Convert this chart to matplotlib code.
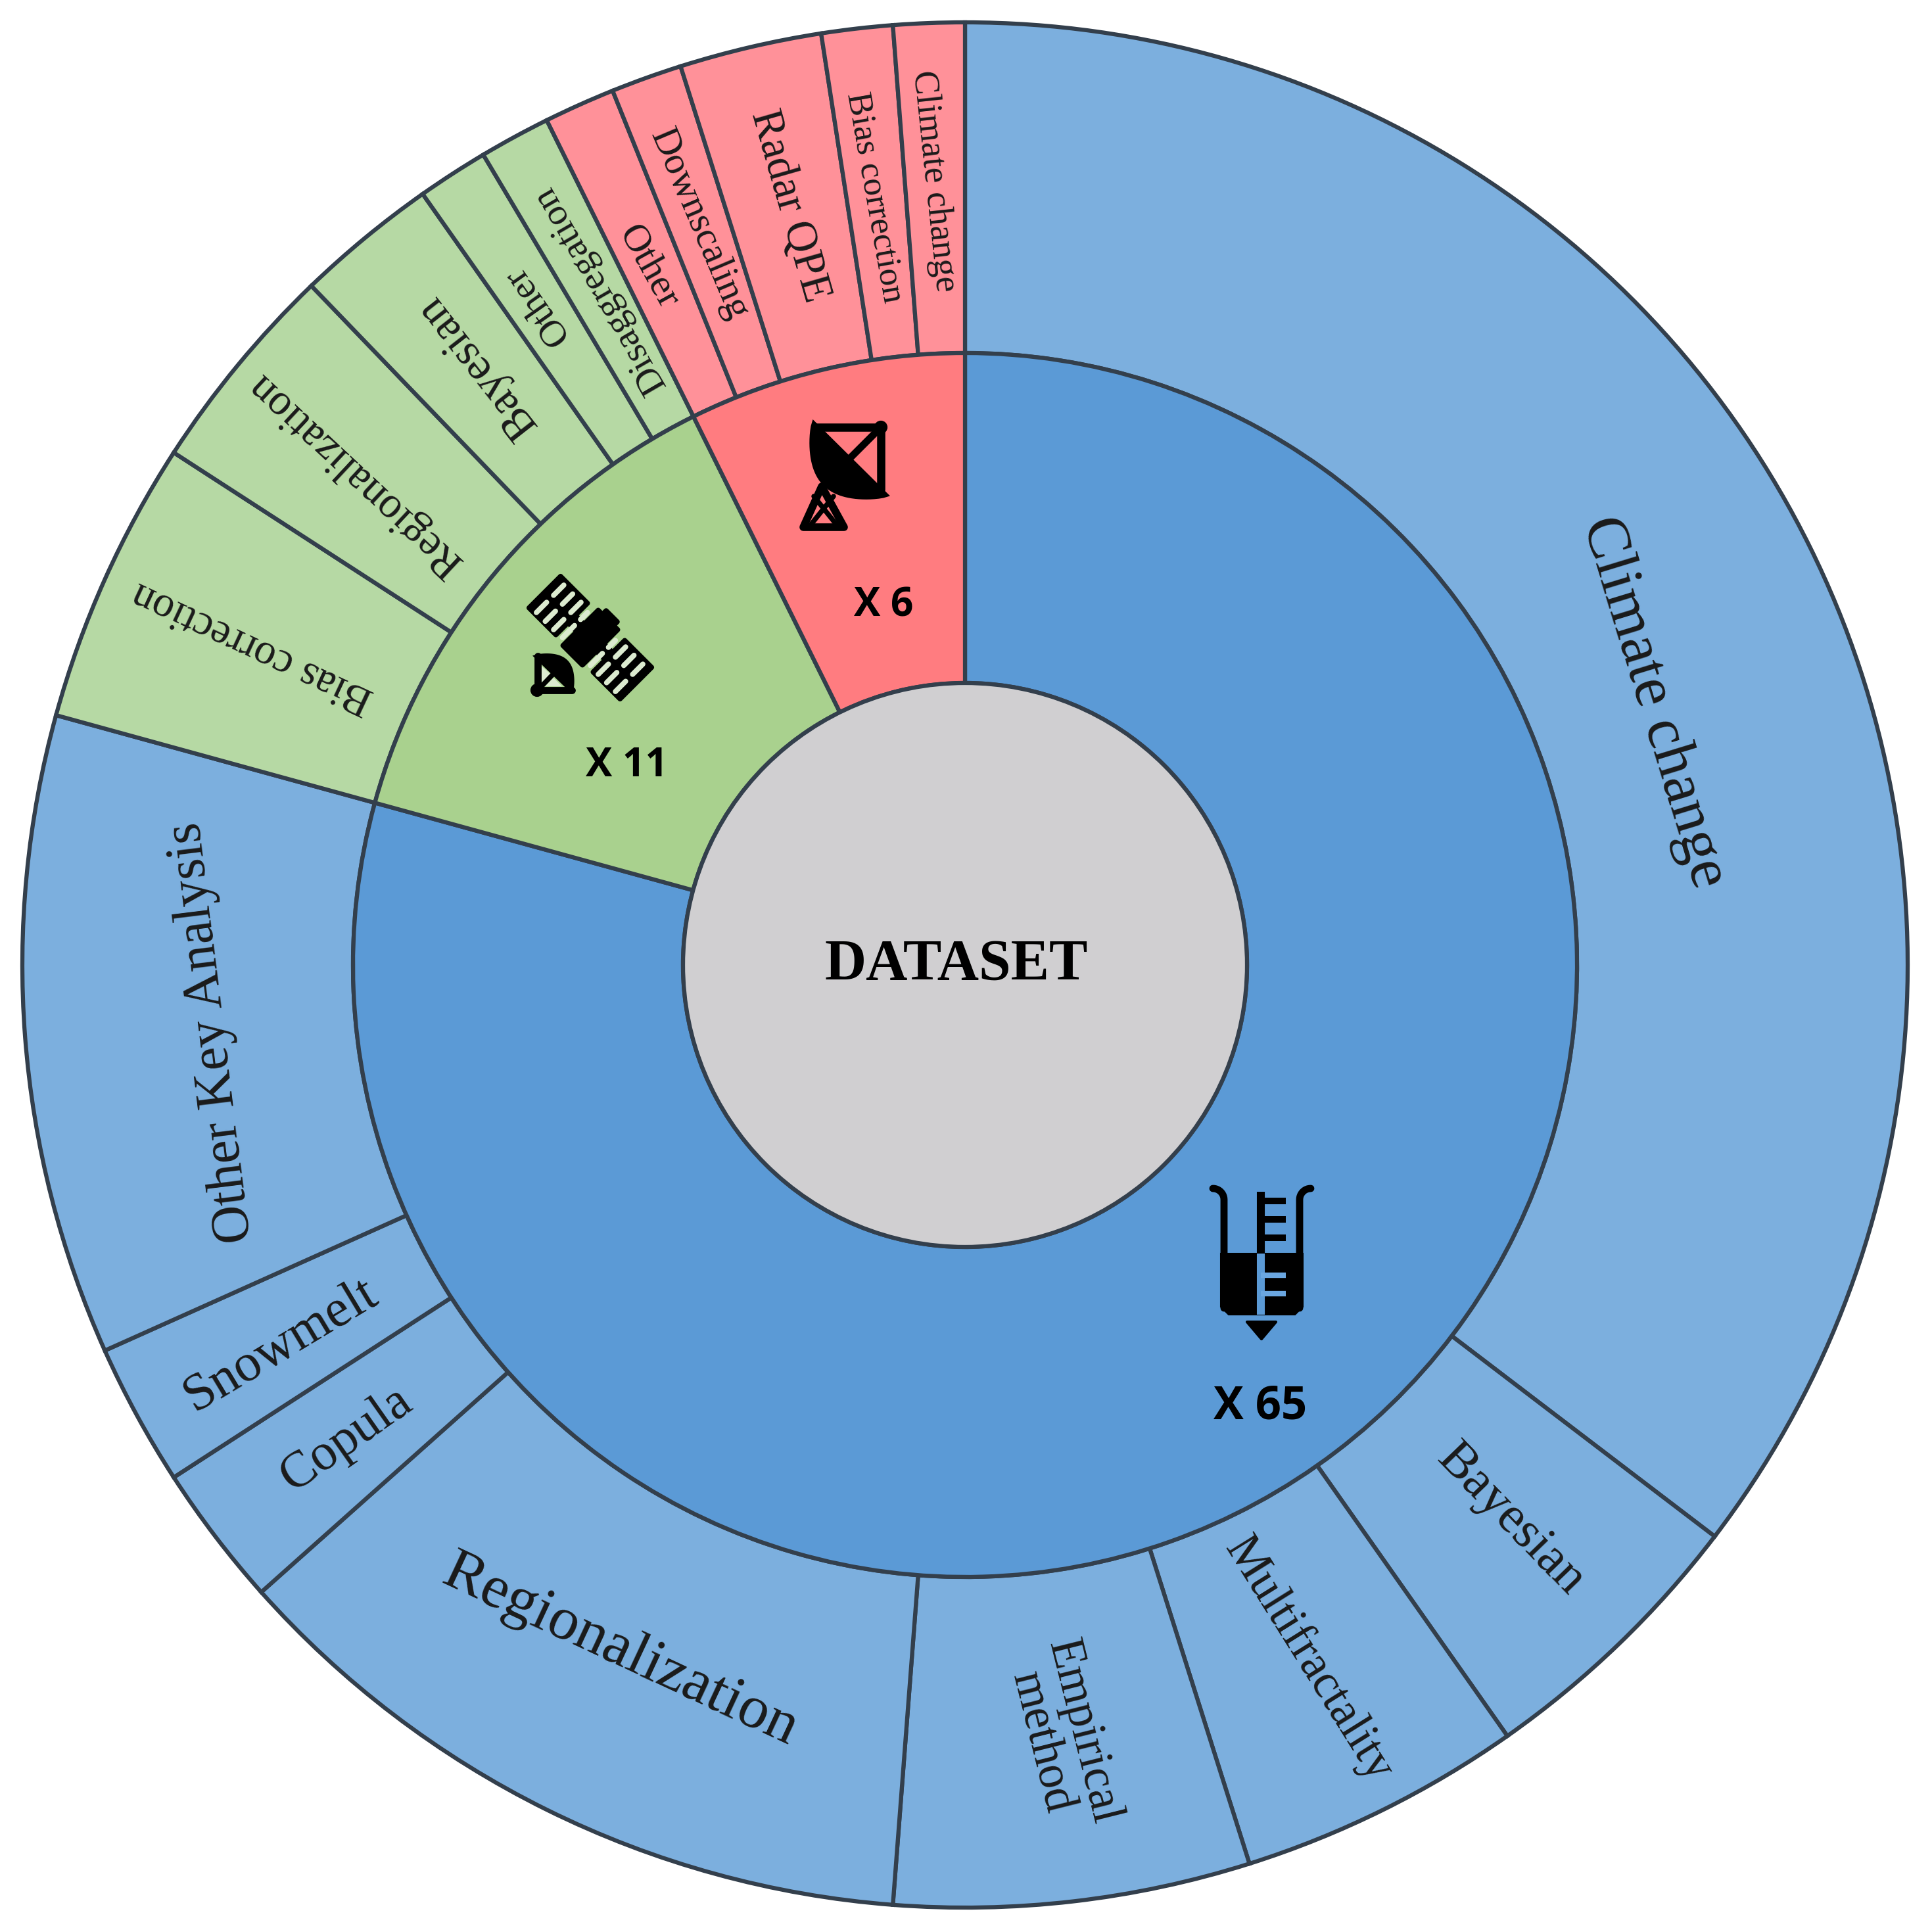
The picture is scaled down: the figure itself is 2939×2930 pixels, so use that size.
import numpy as np
import matplotlib
matplotlib.use('Agg')
import matplotlib.pyplot as plt
from matplotlib.patches import Polygon, Wedge, Circle

inner_vals = [65, 11, 6]
inner_cols = ['#5b9ad6', '#a9d18e', '#ff7c80']

outer_names = ['Climate change', 'Bayesian', 'Multifractality', 'Empirical\nmethod', 'Regionalization',
               'Copula', 'Snowmelt', 'Other Key Analysis',
               'Bias correction', 'Regionalization', 'Bayesian', 'Other', 'Disaggregation',
               'Other', 'Downscaling', 'Radar QPE', 'Bias correction', 'Climate change']
outer_vals = [29, 4, 4, 5, 10, 2, 2, 9, 4, 3, 2, 1, 1, 1, 1, 2, 1, 1]
outer_cols = ['#7cafde'] * 8 + ['#b6d9a4'] * 5 + ['#ff9199'] * 5

count_labels = ['X 65', 'X 11', 'X 6']
centre_label = 'DATASET'

# label placement, read in the 1568 wide view of the reference
label_x = [1342, 1226, 1062, 862, 503, 281, 228, 172, 205, 288, 387, 435, 487, 526, 567, 641, 710, 758]
label_y = [570, 1234, 1347, 1410, 1340, 1168, 1092, 838, 525, 385, 297, 248, 235, 217, 182, 167, 160, 147]
label_rot = [-73, -46, -58, -76, -25, 35, 31, 97, 155, 137, 128, 125, 120, -61, -67, -74, -80, -84]
label_fs = [22.5, 19, 17.5, 17.5, 22.2, 18.8, 19.5, 19.6, 15.7, 16, 16.7, 14, 13.9, 14.3, 14.1, 16, 12.8, 13]

EDGE = '#333f4c'
W, H = 2939, 2930
SC = W / 1568
fig = plt.figure(figsize=(W / 300, H / 300), dpi=300)
ax = fig.add_axes([0, 0, 1, 1])
ax.set_xlim(0, W)
ax.set_ylim(H, 0)
ax.set_aspect('equal')
ax.axis('off')

cx, cy = 1468, 1468
r0, r1, r2 = 429, 931, 1434
LW = 1.5


def ring(vals, cols, rin, rout):
    # clockwise from the top, y axis is flipped so the angles grow clockwise
    total = sum(inner_vals)
    a = -90.0
    for v, c in zip(vals, cols):
        b = a + v / total * 360
        ax.add_patch(Wedge((cx, cy), rout, a, b, width=rout - rin, facecolor=c,
                           edgecolor=EDGE, linewidth=LW))
        a = b


ring(outer_vals, outer_cols, r1, r2)
ring(inner_vals, inner_cols, r0, r1)
ax.add_patch(Circle((cx, cy), r0, facecolor='#d0cfd1', edgecolor=EDGE, linewidth=LW))

for name, x, y, rot, fs in zip(outer_names, label_x, label_y, label_rot, label_fs):
    ax.text(x * SC, y * SC, name, rotation=rot, rotation_mode='anchor', ha='center', va='center',
            family='Liberation Serif', fontsize=fs, color='#1a1a1a', linespacing=0.95)

ax.text(1455, 1468, centre_label, ha='center', va='center', family='Liberation Serif',
        fontweight='bold', fontsize=21, color='black')
ax.text(1917, 2140, count_labels[0], ha='center', va='center', family='Open Sans', fontweight='bold', fontsize=16.5, color='black')
ax.text(953, 1165, count_labels[1], ha='center', va='center', family='Open Sans', fontweight='bold', fontsize=14.5, color='black')
ax.text(1344, 922, count_labels[2], ha='center', va='center', family='Open Sans', fontweight='bold', fontsize=14.5, color='black')


def dish(p1, p2, nx, ny, sag):
    p1, p2 = np.array(p1, float), np.array(p2, float)
    t = np.linspace(0, 1, 40)
    pts = p1 + np.outer(t, p2 - p1) + np.outer(np.sin(np.pi * t) ** 0.8 * sag, [nx, ny])
    ax.add_patch(Polygon(pts, facecolor='k', edgecolor='k', linewidth=0.5))


def line(xs, ys, lw, c='k', cap='round'):
    ax.plot(xs, ys, color=c, lw=lw, solid_capstyle=cap, solid_joinstyle='round')


# rain gauge icon
th = np.linspace(0, np.pi / 2, 12)
lip_x = 17 * (1 - np.cos(th))
lip_y = 1825 - 17 * np.sin(th)
line(np.r_[1862, 1862 - lip_x], np.r_[1990, lip_y], 2.6)
line(np.r_[1977, 1977 + lip_x], np.r_[1990, lip_y], 2.6)
ax.add_patch(Polygon([(1857, 1907), (1982, 1907), (1982, 1988), (1970, 2000), (1869, 2000), (1857, 1988)],
                     facecolor='k', edgecolor='k', linewidth=0.5))
line([1918, 1918], [1813, 1907], 2.9, cap='butt')
line([1918, 1918], [1907, 2000], 2.9, c='#5b9ad6', cap='butt')
for yy in [1827, 1855, 1883]:
    line([1918, 1956], [yy, yy], 2.4, cap='butt')
for yy in [1940, 1968]:
    line([1918, 1956], [yy, yy], 2.0, c='#6aa6e0', cap='butt')
ax.add_patch(Polygon([(1897, 2011), (1941, 2011), (1919, 2037)], facecolor='k', edgecolor='k', linewidth=1, joinstyle='round'))

# satellite icon, u runs along the arms and v across them
sx, sy = 898, 970
S = np.sqrt(0.5)


def sat(u, v):
    return sx + (u + v) * S, sy + (u - v) * S


def box(u0, u1, v0, v1):
    pts = [sat(u0, v0), sat(u1, v0), sat(u1, v1), sat(u0, v1)]
    ax.add_patch(Polygon(pts, facecolor='k', edgecolor='k', linewidth=1.8, joinstyle='round'))


box(-21, 21, -38, 38)
box(-12, 12, 38, 46)
for d in (-1, 1):
    box(*sorted([d * 21, d * 40]), -8, 8)
    box(*sorted([d * 40, d * 98]), -34, 34)
    for u in (48, 66, 85):
        for v in (-20, 17):
            p, q = sat(d * u, v - 11), sat(d * u, v + 11)
            line([p[0], q[0]], [p[1], q[1]], 1.9, c='#dcebd0')
    for v0, v1 in ((-30, -4), (9, 24)):
        p, q = sat(d * 30, v0), sat(d * 30, v1)
        line([p[0], q[0]], [p[1], q[1]], 1.9, c='#dcebd0')
dish((812, 998), (870, 1054), 0.707, -0.707, 30)
line([818, 818, 870], [998, 1050, 1050], 2.6)
line([818, 841], [1050, 1026], 1.8, c='k')
ax.add_patch(Circle((817, 1050), 8, color='k'))
ax.add_patch(Polygon([(826, 1018), (826, 1034), (835, 1026)], color='#dcebd0'))
ax.add_patch(Polygon([(834, 1042), (850, 1042), (842, 1034)], color='#dcebd0'))

# radar icon
dish((1237, 640), (1352, 754), -0.707, 0.707, 58)
line([1240, 1340, 1340], [650, 650, 745], 3.0)
line([1340, 1293], [650, 697], 2.6)
ax.add_patch(Circle((1340, 650), 8, color='k'))
ax.add_patch(Polygon([(1250, 740), (1222, 802), (1284, 802)], facecolor='none', edgecolor='k', linewidth=2.8, joinstyle='round'))
line([1232, 1268], [800, 755], 1.8)
line([1274, 1238], [800, 755], 1.8)

fig.savefig('out.png', dpi=300, facecolor='white')
